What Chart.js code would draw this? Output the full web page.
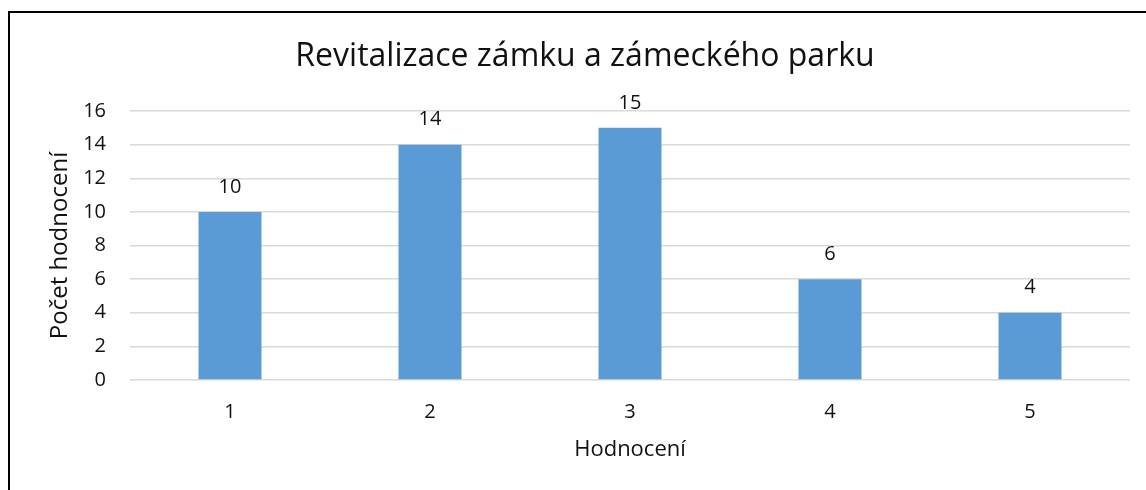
<!DOCTYPE html>
<html>
<head>
<meta charset="utf-8">
<script src="https://cdn.jsdelivr.net/npm/chart.js@4"></script>
<style>
  html, body { margin: 0; padding: 0; background: #fff; }
  #wrap { position: relative; width: 1146px; height: 490px; }
  #frame {
    position: absolute; left: 8px; top: 11px; right: -10px; bottom: -10px;
    border-top: 2px solid #000; border-left: 2px solid #000;
  }
  canvas { position: absolute; left: 0; top: 0; }
</style>
</head>
<body>
<div id="wrap">
  <div id="frame"></div>
  <canvas id="chart" width="1146" height="490"></canvas>
</div>
<script>
// Hodnocení (rating) categories and counts
const ratings = ['1', '2', '3', '4', '5'];
const counts = [10, 14, 15, 6, 4];
const yTicks = [0, 2, 4, 6, 8, 10, 12, 14, 16];

const FONT = '"Open Sans", Lato, sans-serif';
const TEXT = '#111';

// draws the value above each bar
const valueLabels = {
  id: 'valueLabels',
  afterDatasetsDraw(chart) {
    const ctx = chart.ctx;
    const meta = chart.getDatasetMeta(0);
    ctx.save();
    ctx.font = '20px ' + FONT;
    ctx.fillStyle = TEXT;
    ctx.textAlign = 'center';
    ctx.textBaseline = 'middle';
    meta.data.forEach((bar, i) => {
      ctx.fillText(String(counts[i]), bar.x, bar.y - 25);
    });
    ctx.restore();
  }
};

window.onload = function() {
  const ctx = document.getElementById('chart').getContext('2d');
  new Chart(ctx, {
    type: 'bar',
    data: {
      labels: ratings,
      datasets: [{
        data: counts,
        backgroundColor: '#5b9bd5',
        barPercentage: 0.315,
        categoryPercentage: 1
      }]
    },
    options: {
      responsive: false,
      animation: false,
      // left padding keeps the title centred on the frame
      layout: { padding: { left: 40, right: 16, top: 0, bottom: 0 } },
      plugins: {
        legend: { display: false },
        tooltip: { enabled: false },
        title: {
          display: true,
          text: 'Revitalizace zámku a zámeckého parku',
          color: TEXT,
          font: { family: FONT, size: 32, weight: 'normal', lineHeight: 1.2 },
          padding: { top: 38, bottom: 34.6 }
        }
      },
      scales: {
        x: {
          grid: { display: false, drawTicks: false },
          border: { display: false },
          ticks: { color: TEXT, font: { family: FONT, size: 20 }, padding: 20 },
          title: {
            display: true,
            text: 'Hodnocení',
            color: TEXT,
            font: { family: FONT, size: 22, lineHeight: 1.2 },
            padding: { top: 27, bottom: 27 }
          },
          afterFit(scale) { scale.height = 110; }
        },
        y: {
          min: 0,
          max: 16,
          afterBuildTicks(scale) { scale.ticks = yTicks.map(v => ({ value: v })); },
          grid: { color: '#d9d9d9', lineWidth: 1.5, drawTicks: false },
          border: { display: false },
          ticks: { color: TEXT, font: { family: FONT, size: 20 }, padding: 24 },
          title: {
            display: true,
            text: 'Počet hodnocení',
            color: TEXT,
            font: { family: FONT, size: 24, lineHeight: 1.2 },
            padding: { top: 6, bottom: 6 }
          },
          afterFit(scale) { scale.width = 90; }
        }
      }
    },
    plugins: [valueLabels]
  });
};
</script>
</body>
</html>
